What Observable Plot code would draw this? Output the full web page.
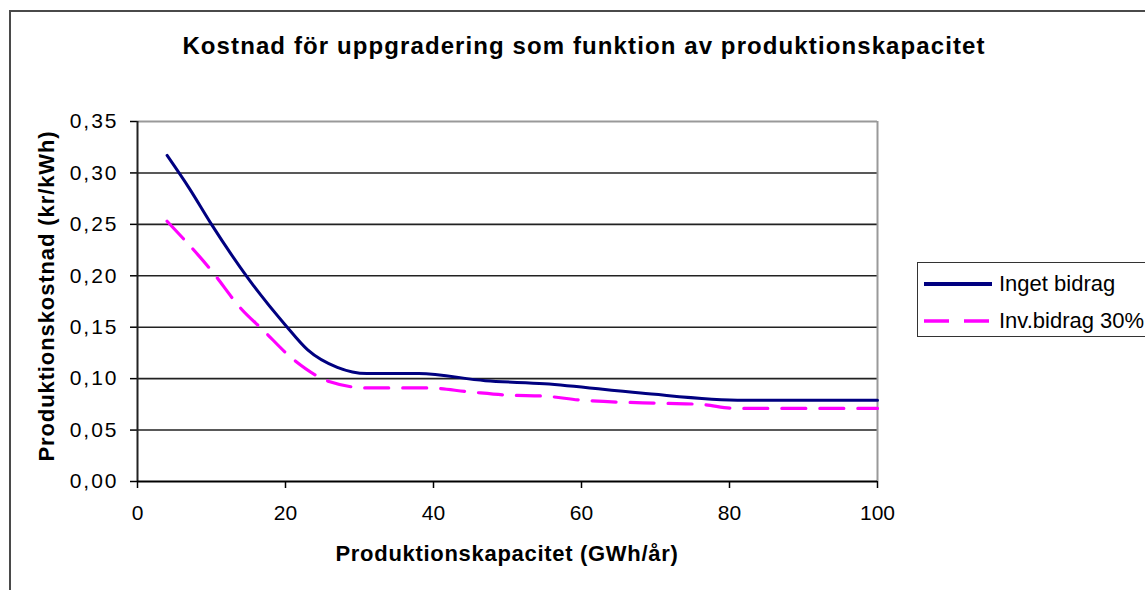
<!DOCTYPE html>
<html>
<head>
<meta charset="utf-8">
<script src="https://cdn.jsdelivr.net/npm/d3@7"></script>
<script src="https://cdn.jsdelivr.net/npm/@observablehq/plot@0.6"></script>
<style>
  html, body { margin: 0; padding: 0; background: #fff; overflow: hidden; }
  #wrap { position: relative; width: 1145px; height: 590px; overflow: hidden; font-family: "Liberation Sans", Arial, sans-serif; }
  #frame { position: absolute; left: 9px; top: 10px; width: 1300px; height: 800px; border: 2px solid #4a4a4a; box-sizing: border-box; }
  #chart { position: absolute; left: 0; top: 0; }
  .title { position: absolute; left: 0; width: 1168px; top: 32px; text-align: center; font-weight: bold; font-size: 24px; letter-spacing: 1.1px; color: #000; }
  .xlabel { position: absolute; left: 0; width: 1014px; top: 541px; text-align: center; font-weight: bold; font-size: 22px; letter-spacing: 0.7px; color: #000; }
  .ylabel { position: absolute; left: 47px; top: 296px; transform: translate(-50%, -50%) rotate(-90deg); white-space: nowrap; font-weight: bold; font-size: 22px; letter-spacing: 0.9px; color: #000; }
  #legend { position: absolute; left: 917px; top: 262px; width: 260px; height: 75px; border: 1.5px solid #333; box-sizing: border-box; background: #fff; }
  .lrow { position: absolute; left: 0; height: 30px; display: flex; align-items: center; font-size: 22px; color: #000; }
  .lrow svg { margin-left: 5px; margin-right: 6px; }
</style>
</head>
<body>
<div id="wrap">
  <div id="frame"></div>
  <div id="chart"></div>
  <div class="title">Kostnad för uppgradering som funktion av produktionskapacitet</div>
  <div class="xlabel">Produktionskapacitet (GWh/år)</div>
  <div class="ylabel">Produktionskostnad (kr/kWh)</div>
  <div id="legend"></div>
</div>
<script>
// Series names
const seriesNames = ["Inget bidrag", "Inv.bidrag 30%"];
const seriesColors = ["#000080", "#ff00ff"];

// Inget bidrag
const capA = [4, 7, 10, 15, 20, 23, 27, 31, 38, 47, 55, 68, 82, 100];
const costA = [0.317, 0.285, 0.25, 0.197, 0.152, 0.128, 0.111, 0.105, 0.105, 0.098, 0.095, 0.086, 0.079, 0.079];

// Inv.bidrag 30%
const capB = [4, 10, 14, 17, 21, 26, 31, 39, 45, 50, 55, 60, 71, 76, 81, 100];
const costB = [0.253, 0.205, 0.168, 0.147, 0.119, 0.097, 0.091, 0.091, 0.087, 0.084, 0.083, 0.079, 0.076, 0.075, 0.071, 0.071];

const xTicks = [0, 20, 40, 60, 80, 100];
const yTicks = [0, 0.05, 0.10, 0.15, 0.20, 0.25, 0.30, 0.35];

const dataA = capA.map((x, i) => ({x, y: costA[i]}));
const dataB = capB.map((x, i) => ({x, y: costB[i]}));
const fmt = d => d3.format(".2f")(d).replace(".", ",");

const plot = Plot.plot({
  width: 1145,
  height: 590,
  marginLeft: 137,
  marginRight: 268,
  marginTop: 121,
  marginBottom: 109,
  style: { fontFamily: "Liberation Sans, Arial, sans-serif", fontSize: "21px", color: "#000", background: "transparent", overflow: "visible" },
  x: { domain: [0, 100] },
  y: { domain: [0, 0.35] },
  marks: [
    Plot.ruleY(yTicks.filter(d => d > 0 && d < 0.35), { stroke: "#222", strokeWidth: 1.6 }),
    Plot.ruleY([0.35], { stroke: "#999", strokeWidth: 2 }),
    Plot.ruleX([100], { stroke: "#999", strokeWidth: 2 }),
    Plot.axisX({ ticks: xTicks, tickSize: 7, tickPadding: 17, label: null, stroke: "#000", strokeWidth: 1.5, tickFormat: d => d }),
    Plot.axisY({ ticks: yTicks, tickSize: 7, tickPadding: 12, label: null, tickFormat: fmt, stroke: "#000", strokeWidth: 1.5 }),
    Plot.ruleX([0], { stroke: "#222", strokeWidth: 2 }),
    Plot.ruleY([0], { stroke: "#000", strokeWidth: 2.2 }),
    Plot.line(dataB, { x: "x", y: "y", stroke: seriesColors[1], strokeWidth: 3.2, strokeDasharray: "24,14", curve: "monotone-x" }),
    Plot.line(dataA, { x: "x", y: "y", stroke: seriesColors[0], strokeWidth: 3, curve: "monotone-x" })
  ]
});
// widen y tick labels slightly (the reference's digits are set wider)
plot.querySelectorAll('g[aria-label*="y-axis"] text').forEach(t => {
  t.setAttribute("letter-spacing", "2");
});
document.getElementById("chart").appendChild(plot);

// Legend
const legend = document.getElementById("legend");
seriesNames.forEach((name, i) => {
  const row = document.createElement("div");
  row.className = "lrow";
  row.style.top = (i === 0 ? 6 : 43) + "px";
  const dash = i === 0 ? "" : ' stroke-dasharray="25,15"';
  row.innerHTML = `<svg width="70" height="10"><line x1="1" y1="5" x2="69" y2="5" stroke="${seriesColors[i]}" stroke-width="${i === 0 ? 4 : 3.5}"${dash}/></svg><span>${name}</span>`;
  legend.appendChild(row);
});
</script>
</body>
</html>
